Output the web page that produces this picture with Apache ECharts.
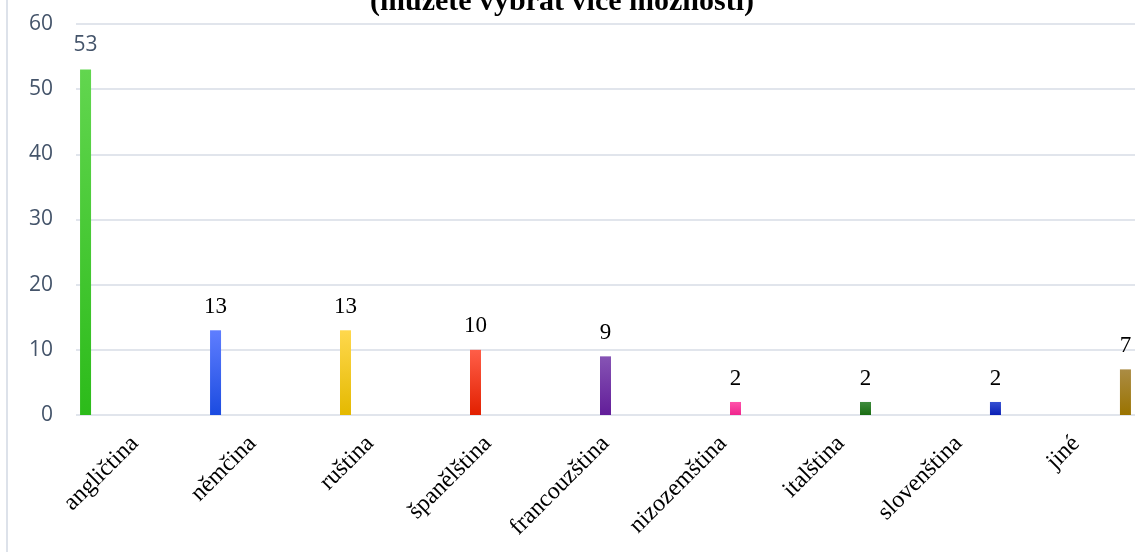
<!DOCTYPE html>
<html>
<head>
<meta charset="utf-8">
<script src="https://cdn.jsdelivr.net/npm/echarts@6/dist/echarts.min.js"></script>
<style>
  html, body { margin: 0; padding: 0; background: #fff; }
  #chart { width: 1147px; height: 552px; }
</style>
</head>
<body>
<div id="chart"></div>
<script>
// Languages and number of answers
const categories = ['angličtina', 'němčina', 'ruština', 'španělština', 'francouzština',
                    'nizozemština', 'italština', 'slovenština', 'jiné'];
const values = [53, 13, 13, 10, 9, 2, 2, 2, 7];
const yTicks = { min: 0, max: 60, interval: 10 };
const titleText = '(můžete vybrat více možností)';

// Gradient per language: [top colour, bottom colour]
const barColors = [
  ['#62d64f', '#2cbb1a'],
  ['#5f7eff', '#1b4be0'],
  ['#ffd84d', '#e4b900'],
  ['#ff5e48', '#e22000'],
  ['#8654b4', '#621d99'],
  ['#ff52aa', '#ef258d'],
  ['#3f8c3e', '#1a6c12'],
  ['#3550d2', '#0a1fb5'],
  ['#ab8c44', '#9a7300']
];

const serif = '"Liberation Serif", "DejaVu Serif", serif';
const sans = '"Open Sans", "Noto Sans", sans-serif';

// One series per language, each with a value only in its own category
const series = categories.map((name, i) => ({
  name,
  type: 'bar',
  barWidth: 11,
  barGap: '12%',
  data: categories.map((_, j) => (j === i ? values[i] : '-')),
  itemStyle: {
    color: new echarts.graphic.LinearGradient(0, 0, 0, 1, [
      { offset: 0, color: barColors[i][0] },
      { offset: 1, color: barColors[i][1] }
    ])
  },
  label: {
    show: true,
    position: 'top',
    distance: i === 0 ? 14 : 12,
    color: i === 0 ? '#44546a' : '#000',
    fontFamily: i === 0 ? sans : serif,
    fontSize: i === 0 ? 21 : 23
  }
}));

const chart = echarts.init(document.getElementById('chart'));
chart.setOption({
  animation: false,
  title: {
    text: titleText,
    left: 365,
    top: -18,
    textStyle: { fontFamily: serif, fontWeight: 'bold', fontSize: 30, color: '#000' }
  },
  grid: { left: 76, right: 12, top: 24, bottom: 137 },
  xAxis: {
    type: 'category',
    data: categories,
    axisLine: { show: false },
    axisTick: { show: false },
    axisLabel: {
      interval: 0,
      rotate: 45,
      margin: 25,
      color: '#000',
      fontFamily: serif,
      fontSize: 24
    }
  },
  yAxis: {
    type: 'value',
    min: yTicks.min,
    max: yTicks.max,
    interval: yTicks.interval,
    axisLine: { show: false },
    axisTick: { show: false },
    axisLabel: { margin: 23, color: '#44546a', fontFamily: sans, fontSize: 21 },
    splitLine: { lineStyle: { color: '#e1e5ec', width: 2 } }
  },
  graphic: [{
    type: 'line',
    shape: { x1: 7, y1: 0, x2: 7, y2: 552 },
    style: { stroke: '#dde2ea', lineWidth: 2 }
  }],
  series
});
</script>
</body>
</html>
